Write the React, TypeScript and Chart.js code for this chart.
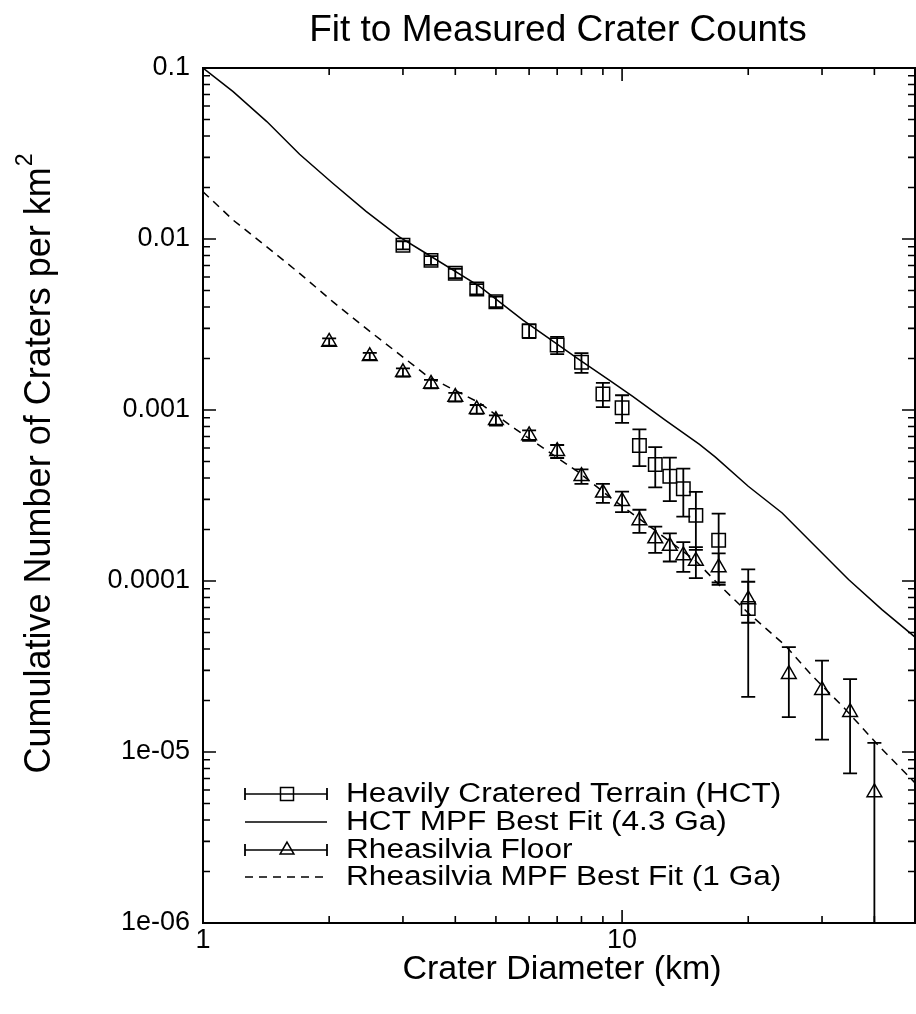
import { useEffect, useRef } from "react";
import { Chart, registerables } from "chart.js";

Chart.register(...registerables);

const chartTitle = "Fit to Measured Crater Counts";
const xAxisTitle = "Crater Diameter (km)";
const yAxisTitle = "Cumulative Number of Craters per km";
const yAxisTitleSup = "2";

const seriesNames = [
  "Heavily Cratered Terrain (HCT)",
  "HCT MPF Best Fit (4.3 Ga)",
  "Rheasilvia Floor",
  "Rheasilvia MPF Best Fit (1 Ga)",
];

const xMajorTicks = [1, 10];
const xMajorLabels = ["1", "10"];
const xMinorTicks = [2, 3, 4, 5, 6, 7, 8, 9, 20, 30, 40];
const yMajorTicks = [0.1, 0.01, 0.001, 0.0001, 1e-5, 1e-6];
const yMajorLabels = ["0.1", "0.01", "0.001", "0.0001", "1e-05", "1e-06"];

const hctD = [3, 3.5, 4, 4.5, 5, 6, 7, 8, 9, 10, 11, 12, 13, 14, 15, 17, 20];
const hctN = [0.0092, 0.0075, 0.0063, 0.0051, 0.0043, 0.0029, 0.0024, 0.0019, 0.00124, 0.00103, 0.00062, 0.00048, 0.00041, 0.000346, 0.000242, 0.000173, 0.000069];
const hctErr = [0.0005, 0.00045, 0.0004, 0.00035, 0.0003, 0.00027, 0.00028, 0.00025, 0.0002, 0.00019, 0.00015, 0.000127, 0.000117, 0.000108, 0.00009, 0.000075, 0.000048];

const rheaD = [2, 2.5, 3, 3.5, 4, 4.5, 5, 6, 7, 8, 9, 10, 11, 12, 13, 14, 15, 17, 20, 25, 30, 35, 40];
const rheaN = [0.0025, 0.00206, 0.00166, 0.00142, 0.00119, 0.00101, 0.00087, 0.00071, 0.000574, 0.00041, 0.000328, 0.000293, 0.000226, 0.000177, 0.00016, 0.000141, 0.000131, 0.00012, 0.000078, 0.0000285, 0.000023, 0.0000171, 0.0000058];
const rheaErr = [0.00012, 0.0001, 0.00009, 0.00008, 0.00007, 0.00006, 0.00006, 0.00005, 0.00005, 0.00004, 0.000042, 0.00004, 0.000035, 0.000031, 0.00003, 0.000028, 0.000027, 0.000025, 0.000021, 0.0000125, 0.0000112, 0.0000096, 0.0000055];

const hctFitD = [1, 1.18, 1.42, 1.7, 2.04, 2.45, 2.94, 3.35, 4.57, 5.79, 7.9, 9.3, 10.6, 12.7, 15.3, 16.7, 20, 24.1, 28.4, 34.7, 41.7, 50];
const hctFitN = [0.1, 0.0727, 0.0486, 0.0313, 0.0212, 0.0145, 0.0103, 0.00845, 0.00528, 0.00337, 0.00197, 0.0015, 0.0012, 0.00087, 0.00063, 0.00053, 0.000358, 0.00025, 0.000167, 0.000102, 0.000068, 0.000047];

const rheaFitD = [1, 1.18, 1.42, 1.7, 2.04, 2.45, 3.44, 4.57, 5.58, 7.9, 9.5, 11.6, 15, 17, 20, 24.5, 28.4, 34.1, 40.9, 50];
const rheaFitN = [0.0189, 0.0129, 0.009, 0.0063, 0.0043, 0.003, 0.00157, 0.0011, 0.00077, 0.00043, 0.0003, 0.00021, 0.000131, 0.0000955, 0.000065, 0.000042, 0.000028, 0.0000178, 0.0000109, 0.0000066];

const FONT = '"Liberation Sans", Arial, Helvetica, sans-serif';

function drawText(ctx: CanvasRenderingContext2D, text: string, x: number, y: number, size: number, align: CanvasTextAlign, baseline: CanvasTextBaseline, sx = 1) {
  ctx.save();
  ctx.translate(x, y);
  ctx.scale(sx, 1);
  ctx.font = `${size}px ${FONT}`;
  ctx.textAlign = align;
  ctx.textBaseline = baseline;
  ctx.fillStyle = "#000";
  ctx.fillText(text, 0, 0);
  ctx.restore();
}

const overlayPlugin = {
  id: "overlay",
  afterDatasetsDraw(chart: any) {
    const ctx: CanvasRenderingContext2D = chart.ctx;
    const a = chart.chartArea;
    const xs = chart.scales.x;
    const ys = chart.scales.y;

    // error bars
    ctx.save();
    ctx.beginPath();
    ctx.rect(a.left, a.top, a.right - a.left, a.bottom - a.top);
    ctx.clip();
    ctx.strokeStyle = "#000";
    ctx.lineWidth = 1.8;
    const bars = (D: number[], N: number[], E: number[]) => {
      D.forEach((d, i) => {
        const px = xs.getPixelForValue(d);
        const hi = N[i] + E[i];
        const lo = N[i] - E[i];
        const pyHi = ys.getPixelForValue(hi);
        const pyLo = lo > 0 ? ys.getPixelForValue(lo) : a.bottom + 20;
        ctx.beginPath();
        ctx.moveTo(px, pyHi);
        ctx.lineTo(px, pyLo);
        ctx.moveTo(px - 7, pyHi);
        ctx.lineTo(px + 7, pyHi);
        if (lo > 0) {
          ctx.moveTo(px - 7, pyLo);
          ctx.lineTo(px + 7, pyLo);
        }
        ctx.stroke();
      });
    };
    bars(hctD, hctN, hctErr);
    bars(rheaD, rheaN, rheaErr);
    ctx.restore();

    // frame and ticks
    ctx.save();
    ctx.strokeStyle = "#000";
    ctx.lineWidth = 2;
    ctx.strokeRect(a.left, a.top, a.right - a.left, a.bottom - a.top);
    ctx.lineWidth = 1.6;
    ctx.beginPath();
    const xTick = (v: number, len: number) => {
      const px = xs.getPixelForValue(v);
      ctx.moveTo(px, a.bottom);
      ctx.lineTo(px, a.bottom - len);
      ctx.moveTo(px, a.top);
      ctx.lineTo(px, a.top + len);
    };
    const yTick = (v: number, len: number) => {
      const py = ys.getPixelForValue(v);
      ctx.moveTo(a.left, py);
      ctx.lineTo(a.left + len, py);
      ctx.moveTo(a.right, py);
      ctx.lineTo(a.right - len, py);
    };
    xMajorTicks.forEach((v) => xTick(v, 13));
    xMinorTicks.forEach((v) => xTick(v, 7));
    yMajorTicks.forEach((v, i) => {
      yTick(v, 13);
      if (i > 0) {
        for (let m = 2; m <= 9; m++) yTick(v * m, 7);
      }
    });
    ctx.stroke();
    ctx.restore();

    // tick labels
    xMajorTicks.forEach((v, i) => drawText(ctx, xMajorLabels[i], xs.getPixelForValue(v), 941, 27, "center", "middle"));
    yMajorTicks.forEach((v, i) => drawText(ctx, yMajorLabels[i], 190, ys.getPixelForValue(v), 27, "right", "middle"));

    // axis titles and chart title
    drawText(ctx, chartTitle, 558, 31, 37, "center", "middle");
    drawText(ctx, xAxisTitle, 562, 970, 34, "center", "middle");

    ctx.save();
    ctx.translate(40, 464);
    ctx.rotate(-Math.PI / 2);
    ctx.font = `36px ${FONT}`;
    const w1 = ctx.measureText(yAxisTitle).width;
    ctx.font = `23px ${FONT}`;
    const w2 = ctx.measureText(yAxisTitleSup).width;
    const start = -(w1 + w2) / 2;
    ctx.fillStyle = "#000";
    ctx.textBaseline = "middle";
    ctx.textAlign = "left";
    ctx.font = `36px ${FONT}`;
    ctx.fillText(yAxisTitle, start, 0);
    ctx.font = `23px ${FONT}`;
    ctx.fillText(yAxisTitleSup, start + w1 + 1, -14);
    ctx.restore();

    // legend
    const rows = [794, 822, 850, 877];
    const sx0 = 245;
    const sx1 = 327;
    const mx = 287;
    ctx.save();
    ctx.strokeStyle = "#000";
    rows.forEach((ry, i) => {
      ctx.lineWidth = 1.5;
      ctx.setLineDash(i === 3 ? [8, 6] : []);
      ctx.beginPath();
      ctx.moveTo(sx0, ry);
      ctx.lineTo(sx1, ry);
      ctx.stroke();
      ctx.setLineDash([]);
      if (i === 0 || i === 2) {
        ctx.lineWidth = 1.8;
        ctx.beginPath();
        ctx.moveTo(sx0, ry - 6);
        ctx.lineTo(sx0, ry + 6);
        ctx.moveTo(sx1, ry - 6);
        ctx.lineTo(sx1, ry + 6);
        ctx.stroke();
        ctx.lineWidth = 1.5;
        ctx.beginPath();
        if (i === 0) {
          ctx.rect(mx - 6.5, ry - 6.5, 13, 13);
        } else {
          const r = 8;
          ctx.moveTo(mx, ry - r);
          ctx.lineTo(mx + r * 0.866, ry + r * 0.5);
          ctx.lineTo(mx - r * 0.866, ry + r * 0.5);
          ctx.closePath();
        }
        ctx.stroke();
      }
      drawText(ctx, seriesNames[i], 346, ry + 1, 27, "left", "middle", 1.17);
    });
    ctx.restore();
  },
};

export default function App() {
  const ref = useRef<HTMLCanvasElement | null>(null);

  useEffect(() => {
    if (!ref.current) return;
    const chart = new Chart(ref.current, {
      type: "scatter",
      data: {
        datasets: [
          {
            label: seriesNames[0],
            data: hctD.map((d, i) => ({ x: d, y: hctN[i] })),
            showLine: false,
            pointStyle: "rect",
            pointRadius: 9.5,
            borderColor: "#000",
            backgroundColor: "rgba(0,0,0,0)",
            borderWidth: 1.5,
          },
          {
            label: seriesNames[1],
            data: hctFitD.map((d, i) => ({ x: d, y: hctFitN[i] })),
            showLine: true,
            pointRadius: 0,
            borderColor: "#000",
            borderWidth: 1.5,
            tension: 0,
          },
          {
            label: seriesNames[2],
            data: rheaD.map((d, i) => ({ x: d, y: rheaN[i] })),
            showLine: false,
            pointStyle: "triangle",
            pointRadius: 8.5,
            borderColor: "#000",
            backgroundColor: "rgba(0,0,0,0)",
            borderWidth: 1.5,
          },
          {
            label: seriesNames[3],
            data: rheaFitD.map((d, i) => ({ x: d, y: rheaFitN[i] })),
            showLine: true,
            pointRadius: 0,
            borderColor: "#000",
            borderWidth: 1.5,
            borderDash: [8, 6],
            tension: 0,
          },
        ],
      },
      options: {
        responsive: false,
        animation: false,
        devicePixelRatio: 1,
        layout: { autoPadding: false, padding: { top: 68, right: 1, left: 0, bottom: 0 } },
        plugins: {
          legend: { display: false },
          title: { display: false },
          tooltip: { enabled: false },
        },
        scales: {
          x: {
            type: "logarithmic",
            min: 1,
            max: 50,
            grid: { display: false },
            border: { display: false },
            ticks: { display: false },
            afterFit: (s: any) => {
              s.height = 91;
            },
          },
          y: {
            type: "logarithmic",
            min: 1e-6,
            max: 0.1,
            grid: { display: false },
            border: { display: false },
            ticks: { display: false },
            afterFit: (s: any) => {
              s.width = 203;
            },
          },
        },
      },
      plugins: [overlayPlugin],
    });
    return () => chart.destroy();
  }, []);

  return (
    <div style={{ position: "absolute", left: 0, top: 0, width: 916, height: 1014, background: "#fff" }}>
      <canvas ref={ref} width={916} height={1014} style={{ display: "block" }} />
    </div>
  );
}
